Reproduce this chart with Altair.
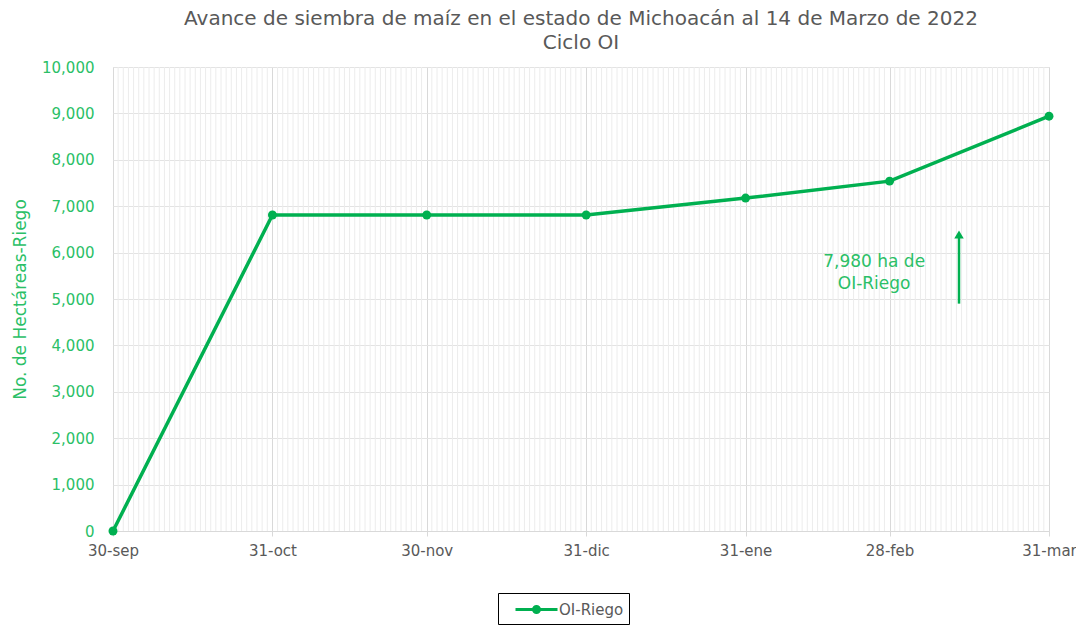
import altair as alt
import pandas as pd

# ---- data ----
fechas = ["2021-09-30", "2021-10-31", "2021-11-30", "2021-12-31", "2022-01-31", "2022-02-28", "2022-03-31"]
valores = [0, 6810, 6810, 6810, 7175, 7540, 8940]
serie = ["OI-Riego"] * len(fechas)

nota_fecha = ["2022-02-25T00:00:00", "2022-02-25T00:00:00"]
nota_valor = [5800, 5320]
nota_texto = ["7,980 ha de", "OI-Riego"]

flecha_fecha = ["2022-03-13T12:00:00"]
flecha_desde = [4900]
flecha_hasta = [6350]
flecha_punta = [6390]

GREEN = "#00b050"
TXT_GREEN = "#2bbf67"
GRAY = "#595959"
FONT = "DejaVu Sans"

df = pd.DataFrame({"fecha": [f + "T00:00:00" for f in fechas], "valor": valores, "serie": serie})

dias = pd.date_range("2021-09-30", "2022-03-31", freq="D")
mayores = set(pd.to_datetime(fechas))
dias_df = pd.DataFrame({"fecha": [d.strftime("%Y-%m-%dT00:00:00") for d in dias if d not in mayores]})

tick_vals = [alt.DateTime(year=int(f[:4]), month=int(f[5:7]), date=int(f[8:10])) for f in fechas]
label_expr = ("timeFormat(datum.value, '%d') + '-' + "
              "['ene','feb','mar','abr','may','jun','jul','ago','sep','oct','nov','dic'][month(datum.value)]")

x_scale = alt.Scale(domain=[alt.DateTime(year=2021, month=9, date=30), alt.DateTime(year=2022, month=3, date=31)], nice=False)
y_scale = alt.Scale(domain=[0, 10000], nice=False)

x_enc = alt.X("fecha:T", scale=x_scale, title=None,
              axis=alt.Axis(values=tick_vals, labelExpr=label_expr, grid=True, gridColor="#d9d9d9",
                            domain=True, domainColor="#d9d9d9", ticks=True, tickColor="#d9d9d9", tickSize=5,
                            labelFont=FONT, labelFontSize=15, labelColor=GRAY, labelPadding=7,
                            labelFlush=False, labelOverlap=False))

grid = alt.Chart(dias_df).mark_rule(color="#ececec", strokeWidth=1).encode(
    x=alt.X("fecha:T", scale=x_scale),
    y=alt.value(0), y2=alt.value(464))

line = alt.Chart(df).mark_line(strokeWidth=3.5, point=alt.OverlayMarkDef(filled=True, size=80, opacity=1)).encode(
    x=x_enc,
    y=alt.Y("valor:Q", scale=y_scale, title="No. de Hectáreas-Riego",
            axis=alt.Axis(values=list(range(0, 10001, 1000)), format=",.0f", grid=True, gridColor="#e3e3e3",
                          domain=False, ticks=False, labelFont=FONT, labelFontSize=15, labelColor=TXT_GREEN,
                          labelPadding=19, titleFont=FONT, titleFontSize=17, titleColor=TXT_GREEN,
                          titleFontWeight="normal", titlePadding=12)),
    color=alt.Color("serie:N", scale=alt.Scale(domain=["OI-Riego"], range=[GREEN]),
                    legend=alt.Legend(title=None, orient="none", legendX=385, legendY=526,
                                      strokeColor="#000000", padding=5, labelFont=FONT, labelFontSize=15,
                                      labelColor=GRAY, labelOffset=11, symbolOffset=22,
                                      labelExpr="datum.label + '\u00a0\u00a0\u00a0\u00a0\u00a0'",
                                      symbolType="M-2.1,0H2.1M-0.3,0a0.3,0.3 0 1,0 0.6,0a0.3,0.3 0 1,0 -0.6,0",
                                      symbolSize=400, symbolStrokeWidth=3, symbolFillColor=GREEN,
                                      symbolStrokeColor=GREEN)))

nota_df = pd.DataFrame({"fecha": nota_fecha, "valor": nota_valor, "texto": nota_texto})
nota = alt.Chart(nota_df).mark_text(font=FONT, fontSize=17, color=TXT_GREEN).encode(
    x=alt.X("fecha:T", scale=x_scale), y=alt.Y("valor:Q", scale=y_scale), text="texto:N")

flecha_df = pd.DataFrame({"fecha": flecha_fecha, "desde": flecha_desde, "hasta": flecha_hasta, "punta": flecha_punta})
flecha = alt.Chart(flecha_df).mark_rule(color=GREEN, strokeWidth=2.5).encode(
    x=alt.X("fecha:T", scale=x_scale), y=alt.Y("desde:Q", scale=y_scale), y2="hasta:Q")
punta = alt.Chart(flecha_df).mark_point(shape="triangle-up", filled=True, size=90, color=GREEN, opacity=1).encode(
    x=alt.X("fecha:T", scale=x_scale), y=alt.Y("punta:Q", scale=y_scale))

chart = alt.layer(grid, line, nota, flecha, punta).properties(
    width=936, height=464,
    title=alt.TitleParams(["Avance de siembra de maíz en el estado de Michoacán al 14 de Marzo de 2022", "Ciclo OI"],
                          anchor="middle", font=FONT, fontSize=20, fontWeight="normal", color=GRAY,
                          lineHeight=24, offset=7),
    autosize=alt.AutoSizeParams(type="none"),
    padding={"left": 105, "top": 59, "right": 27, "bottom": 100},
).configure_view(stroke="#d9d9d9", strokeWidth=1).configure(background="white")

chart.save("out.html", embed_options={"renderer": "svg", "actions": False})
